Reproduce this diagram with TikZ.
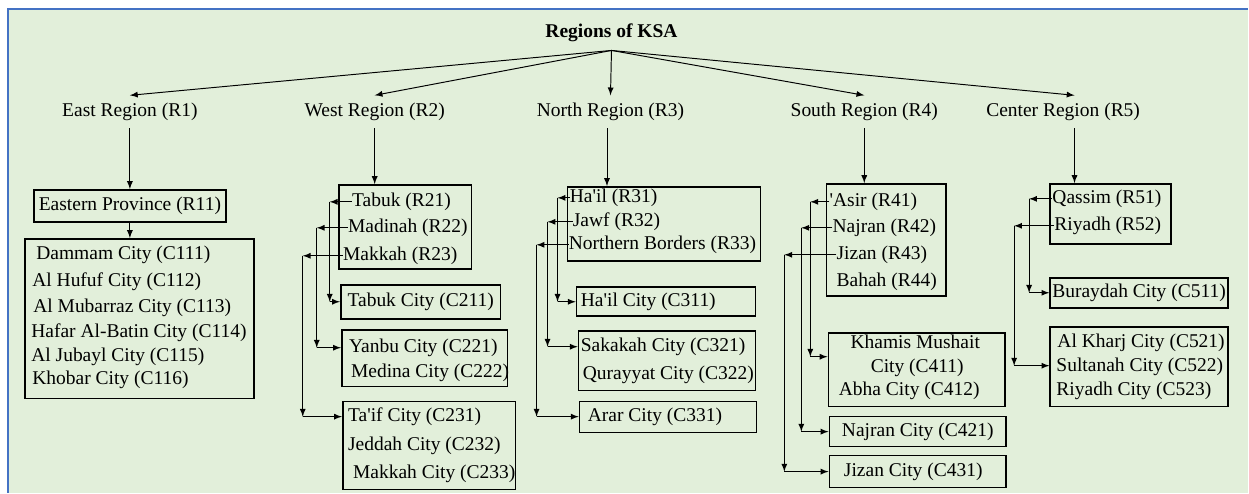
\documentclass[tikz,border=0pt]{standalone}
\usepackage{fontspec}
\setmainfont{Liberation Serif}
\usetikzlibrary{fit}

\definecolor{sheet}{HTML}{E2EFDA}
\definecolor{frame}{HTML}{4472C4}
\newcommand{\ap}{\textquotesingle}

\tikzset{
  box/.style={draw, line width=0.9pt, inner sep=0pt},
  item/.style={anchor=west, inner sep=0pt, text height=8pt, text depth=2.5pt},
  head/.style={inner xsep=0pt, inner ysep=4pt, text height=8pt, text depth=2.5pt},
  arr/.style={-latex, line width=0.55pt},
}

\begin{document}
\begin{tikzpicture}[x=0.02cm, y=-0.02cm, font=\fontsize{11.1}{13}\selectfont]
        % sheet and frame
        \fill[white] (0,0) rectangle (1249,493);
        \fill[sheet] (8,9) rectangle (1249,493);
        \draw[frame, line width=1.2pt] (8,493) -- (8,9) -- (1249,9);
        \useasboundingbox (0,0) rectangle (1249,493);

        % top level
        \node[head, inner ysep=4.5pt, font=\fontsize{11.1}{13}\selectfont\bfseries] (ksa) at (612,33) {Regions of KSA};
        \node[head] (r1) at (130,112) {East Region (R1)};
        \node[head] (r2) at (375,112) {West Region (R2)};
        \node[head] (r3) at (611,112) {North Region (R3)};
        \node[head] (r4) at (865,112) {South Region (R4)};
        \node[head] (r5) at (1064,112) {Center Region (R5)};
        \draw[arr] (ksa.south) -- (r1.north);
        \draw[arr] (ksa.south) -- (r2.north);
        \draw[arr] (ksa.south) -- (r3.north);
        \draw[arr] (ksa.south) -- (r4.north);
        \draw[arr] (ksa.south) -- ([xshift=6.5pt]r5.north);

        % east
        \node[box, fit={(34,190) (226,222)}] (pb1) {};
        \node[item, anchor=center] (p11) at (pb1.center) {Eastern Province (R11)};
        \node[box, fit={(25,239) (254,399)}] (cb1) {};
        \node[item] (c111) at (36,255) {Dammam City (C111)};
        \node[item] (c112) at (32,282) {Al Hufuf City (C112)};
        \node[item] (c113) at (33,308) {Al Mubarraz City (C113)};
        \node[item] (c114) at (31,333) {Hafar Al-Batin City (C114)};
        \node[item] (c115) at (31,357) {Al Jubayl City (C115)};
        \node[item] (c116) at (32,380) {Khobar City (C116)};
        \draw[arr] (r1.south) -- (r1.south |- pb1.north);
        \draw[arr] (pb1.south) -- (pb1.south |- cb1.north);

        % west
        \node[box, fit={(339,185) (472,269)}] (pb2) {};
        \node[item] (p21) at (352,202) {Tabuk (R21)};
        \node[item] (p22) at (348,228) {Madinah (R22)};
        \node[item] (p23) at (343,256) {Makkah (R23)};
        \node[box, fit={(341,285) (501,319)}] (cb21) {};
        \node[item, anchor=center] (c211) at (cb21.center) {Tabuk City (C211)};
        \node[box, fit={(342,330) (508,387)}] (cb22) {};
        \node[item] (c221) at (349,348) {Yanbu City (C221)};
        \node[item] (c222) at (351,373) {Medina City (C222)};
        \node[box, fit={(343,402) (516,490)}] (cb23) {};
        \node[item] (c231) at (348,417) {Ta\ap if City (C231)};
        \node[item] (c232) at (348,446) {Jeddah City (C232)};
        \node[item] (c233) at (353,474) {Makkah City (C233)};
        \coordinate (k21) at (330,302);
        \coordinate (k22) at (317,348);
        \coordinate (k23) at (303,417);
        \draw[arr] (r2.south) -- (r2.south |- pb2.north);
        \draw[arr] (p21.west) -- (p21.west -| k21);
        \draw[arr] (p21.west -| k21) -- (k21);
        \draw[arr] (k21) -- (k21 -| cb21.west);
        \draw[arr] (p22.west) -- (p22.west -| k22);
        \draw[arr] (p22.west -| k22) -- (k22);
        \draw[arr] (k22) -- (k22 -| cb22.west);
        \draw[arr] (p23.west) -- (p23.west -| k23);
        \draw[arr] (p23.west -| k23) -- (k23);
        \draw[arr] (k23) -- (k23 -| cb23.west);

        % north
        \node[box, fit={(568,187) (761,261)}] (pb3) {};
        \node[item] (p31) at (570,198) {Ha\ap il (R31)};
        \node[item] (p32) at (573,222) {Jawf (R32)};
        \node[item] (p33) at (569,245) {Northern Borders (R33)};
        \node[box, fit={(577,287) (756,316)}] (cb31) {};
        \node[item] (c311) at (581,302) {Ha\ap il City (C311)};
        \node[box, fit={(579,331) (756,391)}] (cb32) {};
        \node[item] (c321) at (581,347) {Sakakah City (C321)};
        \node[item] (c322) at (583,375) {Qurayyat City (C322)};
        \node[box, fit={(580,402) (757,433)}] (cb33) {};
        \node[item] (c331) at (588,417) {Arar City (C331)};
        \coordinate (k31) at (558,302);
        \coordinate (k32) at (548,347);
        \coordinate (k33) at (537,417);
        \draw[arr] ([xshift=-2pt]r3.south) -- ([xshift=-2pt]r3.south |- pb3.north);
        \draw[arr] (p31.west) -- (p31.west -| k31);
        \draw[arr] (p31.west -| k31) -- (k31);
        \draw[arr] (k31) -- (k31 -| cb31.west);
        \draw[arr] (p32.west) -- (p32.west -| k32);
        \draw[arr] (p32.west -| k32) -- (k32);
        \draw[arr] (k32) -- (k32 -| cb32.west);
        \draw[arr] (p33.west) -- (p33.west -| k33);
        \draw[arr] (p33.west -| k33) -- (k33);
        \draw[arr] (k33) -- (k33 -| cb33.west);

        % south
        \node[box, fit={(827,184) (947,296)}] (pb4) {};
        \node[item] (p41) at (830,202) {\ap Asir (R41)};
        \node[item] (p42) at (833,228) {Najran (R42)};
        \node[item] (p43) at (837,255) {Jizan (R43)};
        \node[item] (p44) at (837,282) {Bahah (R44)};
        \node[box, fit={(829,333) (1006,407)}] (cb41) {};
        \node[item, anchor=center] (c411) at (916,344) {Khamis Mushait};
        \node[item, anchor=center] (c411b) at (918,368) {City (C411)};
        \node[item, anchor=center] (c412) at (910,391) {Abha City (C412)};
        \node[box, fit={(830,417) (1007,447)}] (cb42) {};
        \node[item, anchor=center] (c421) at (cb42.center) {Najran City (C421)};
        \node[box, fit={(830,456) (1007,488)}] (cb43) {};
        \node[item, anchor=center] (c431) at (914,472) {Jizan City (C431)};
        \coordinate (k41) at (811,357);
        \coordinate (k42) at (802,432);
        \coordinate (k43) at (785,472);
        \draw[arr] (r4.south) -- (r4.south |- pb4.north);
        \draw[arr] (p41.west) -- (p41.west -| k41);
        \draw[arr] (p41.west -| k41) -- (k41);
        \draw[arr] (k41) -- (k41 -| cb41.west);
        \draw[arr] (p42.west) -- (p42.west -| k42);
        \draw[arr] (p42.west -| k42) -- (k42);
        \draw[arr] (k42) -- (k42 -| cb42.west);
        \draw[arr] (p43.west) -- (p43.west -| k43);
        \draw[arr] (p43.west -| k43) -- (k43);
        \draw[arr] (k43) -- (k43 -| cb43.west);

        % center
        \node[box, fit={(1051,184) (1172,244)}] (pb5) {};
        \node[item] (p51) at (1053,199) {Qassim (R51)};
        \node[item] (p52) at (1055,226) {Riyadh (R52)};
        \node[box, fit={(1051,278) (1229,308)}] (cb51) {};
        \node[item, anchor=center] (c511) at (cb51.center) {Buraydah City (C511)};
        \node[box, fit={(1051,327) (1229,407)}] (cb52) {};
        \node[item] (c521) at (1058,343) {Al Kharj City (C521)};
        \node[item] (c522) at (1057,367) {Sultanah City (C522)};
        \node[item] (c523) at (1057,391) {Riyadh City (C523)};
        \coordinate (k51) at (1030,293);
        \coordinate (k52) at (1015,366);
        \draw[arr] ([xshift=6.5pt]r5.south) -- ([xshift=6.5pt]r5.south |- pb5.north);
        \draw[arr] (p51.west) -- (p51.west -| k51);
        \draw[arr] (p51.west -| k51) -- (k51);
        \draw[arr] (k51) -- (k51 -| cb51.west);
        \draw[arr] (p52.west) -- (p52.west -| k52);
        \draw[arr] (p52.west -| k52) -- (k52);
        \draw[arr] (k52) -- (k52 -| cb52.west);
\end{tikzpicture}
\end{document}
